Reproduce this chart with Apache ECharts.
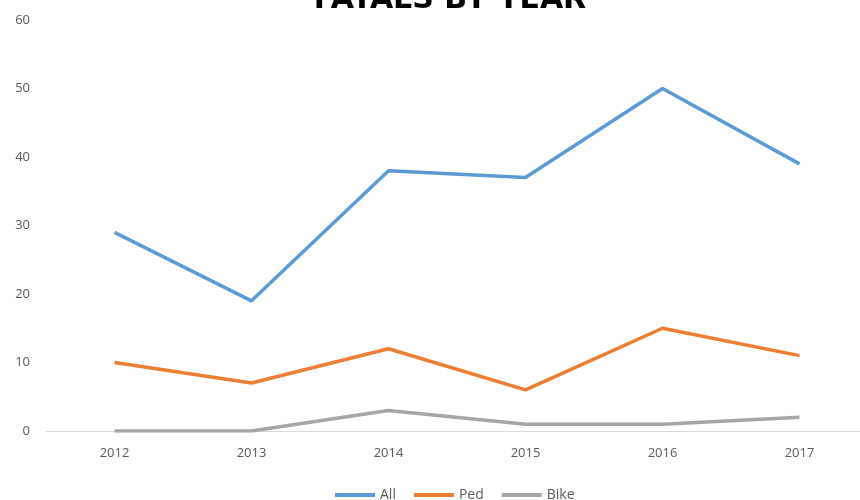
<!DOCTYPE html>
<html>
<head>
<meta charset="utf-8">
<script src="https://cdn.jsdelivr.net/npm/echarts@6/dist/echarts.min.js"></script>
<style>
  html, body { margin: 0; padding: 0; background: #fff; }
  #chart { width: 860px; height: 500px; }
</style>
</head>
<body>
<div id="chart"></div>
<script>
const years = ["2012", "2013", "2014", "2015", "2016", "2017"];
const allFatals = [29, 19, 38, 37, 50, 39];
const pedFatals = [10, 7, 12, 6, 15, 11];
const bikeFatals = [0, 0, 3, 1, 1, 2];

const chart = echarts.init(document.getElementById("chart"));

function lineSeries(name, data, color) {
  return {
    name: name,
    type: "line",
    data: data,
    symbol: "none",
    lineStyle: { color: color, width: 3.5 },
    itemStyle: { color: color }
  };
}

const option = {
  animation: false,
  title: {
    text: "FATALS BY YEAR",
    left: 445,
    textAlign: "center",
    top: -20,
    textStyle: {
      fontFamily: "DejaVu Sans",
      fontWeight: "bold",
      fontSize: 30,
      color: "#000"
    }
  },
  legend: {
    top: 483,
    left: 330,
    orient: "horizontal",
    itemWidth: 40,
    itemHeight: 4,
    itemGap: 18,
    icon: "rect",
    textStyle: { color: "#595959", fontSize: 14, fontFamily: "Open Sans" },
    data: ["All", "Ped", "Bike"]
  },
  grid: {
    left: 46,
    top: 20,
    width: 822,
    height: 411,
    outerBoundsMode: "none"
  },
  xAxis: {
    type: "category",
    data: years,
    boundaryGap: true,
    axisLine: { lineStyle: { color: "#D9D9D9", width: 1 } },
    axisTick: { show: false },
    axisLabel: { color: "#595959", fontSize: 13, margin: 16, fontFamily: "Open Sans" }
  },
  yAxis: {
    type: "value",
    min: 0,
    max: 60,
    interval: 10,
    splitLine: { show: false },
    axisLine: { show: false },
    axisTick: { show: false },
    axisLabel: { color: "#595959", fontSize: 13, margin: 16, fontFamily: "Open Sans" }
  },
  series: [
    lineSeries("All", allFatals, "#5B9BD5"),
    lineSeries("Ped", pedFatals, "#ED7D31"),
    lineSeries("Bike", bikeFatals, "#A5A5A5")
  ]
};

chart.setOption(option);
</script>
</body>
</html>
